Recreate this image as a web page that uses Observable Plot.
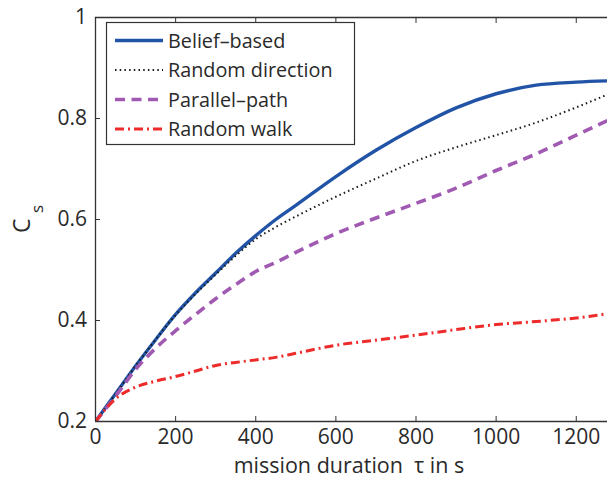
<!DOCTYPE html>
<html><head><meta charset="utf-8">
<script src="https://cdn.jsdelivr.net/npm/d3@7"></script>
<script src="https://cdn.jsdelivr.net/npm/@observablehq/plot@0.6"></script>
<style>
html,body{margin:0;padding:0;background:#fff;}
#chart svg{display:block;}
</style>
</head><body><div id="chart"></div>
<script>
// ---- data ----
const tau             = [0,    50,    100,   150,   200,   250,   300,   350,   400,   450,   500,   600,   700,   800,   900,   1000,  1100,  1200,  1300];
const beliefBased     = [0.20, 0.255, 0.310, 0.362, 0.412, 0.455, 0.494, 0.533, 0.568, 0.600, 0.628, 0.685, 0.737, 0.782, 0.821, 0.849, 0.866, 0.872, 0.875];
const randomDirection = [0.20, 0.255, 0.310, 0.362, 0.411, 0.453, 0.491, 0.528, 0.561, 0.585, 0.606, 0.645, 0.681, 0.716, 0.743, 0.767, 0.792, 0.822, 0.855];
const parallelPath    = [0.20, 0.250, 0.303, 0.345, 0.380, 0.412, 0.443, 0.471, 0.497, 0.515, 0.535, 0.572, 0.603, 0.632, 0.662, 0.697, 0.730, 0.767, 0.804];
const randomWalk      = [0.20, 0.245, 0.268, 0.280, 0.289, 0.300, 0.311, 0.317, 0.322, 0.327, 0.335, 0.351, 0.361, 0.371, 0.382, 0.392, 0.398, 0.405, 0.416];
const seriesNames = ["Belief–based", "Random direction", "Parallel–path", "Random walk"];
const seriesValues = [beliefBased, randomDirection, parallelPath, randomWalk];
const xTicks = [0, 200, 400, 600, 800, 1000, 1200];
const yTicks = [0.2, 0.4, 0.6, 0.8, 1];
const xDomain = [0, 1278];
const yDomain = [0.2, 1];
const xLabel = "mission duration  τ in s";

// ---- styles ----
const styles = [
  {stroke: "#2154a6", strokeWidth: 3.4, strokeDasharray: null, strokeLinecap: "round"},
  {stroke: "#1a1a1a", strokeWidth: 2.0, strokeDasharray: "1.5,3.2", strokeLinecap: "butt"},
  {stroke: "#a05ab2", strokeWidth: 3.6, strokeDasharray: "10,6.5", strokeLinecap: "butt"},
  {stroke: "#ee2b2b", strokeWidth: 3.0, strokeDasharray: "9,4,2,4", strokeLinecap: "butt"}
];

const table = seriesNames.map((name, s) => tau.map((t, i) => ({tau: t, value: seriesValues[s][i], series: name})));

const font = "'Open Sans', 'DejaVu Sans', sans-serif";

const chart = Plot.plot({
  width: 607, height: 477,
  marginLeft: 95, marginRight: 0, marginTop: 17, marginBottom: 56,
  style: {fontFamily: font, fontSize: "21px", color: "#2a2a2a", background: "#fff"},
  x: {domain: xDomain},
  y: {domain: yDomain},
  marks: [
    ...table.map((rows, s) => Plot.line(rows, {x: "tau", y: "value", clip: true, curve: "monotone-x", strokeLinejoin: "round", ...styles[s]})),
    Plot.ruleX([xDomain[0]], {stroke: "#333", strokeWidth: 1.3}),
    Plot.ruleY(yDomain, {stroke: "#333", strokeWidth: 1.3}),
    Plot.axisX({ticks: xTicks, tickSize: -5, tickPadding: 13, tickFormat: d => String(d), label: null, stroke: "#333"}),
    Plot.axisX({anchor: "top", ticks: xTicks, tickSize: -5, tickPadding: 0, tickFormat: () => "", label: null, stroke: "#333"}),
    Plot.axisY({ticks: yTicks, tickSize: -5, tickPadding: 13.5, tickFormat: d => String(d), label: null, stroke: "#333"})
  ]
});
document.getElementById("chart").appendChild(chart);

// ---- legend, axis labels (added to the same SVG) ----
const svg = d3.select(chart);
const lg = svg.append("g").attr("font-family", font).attr("text-anchor", "start");
lg.append("rect").attr("x", 106.5).attr("y", 22.5).attr("width", 248).attr("height", 122)
  .attr("fill", "#fff").attr("stroke", "#333").attr("stroke-width", 1.2);
const rowY = [40.5, 70, 99.5, 129];
seriesNames.forEach((name, s) => {
  lg.append("line").attr("x1", 115).attr("x2", 163).attr("y1", rowY[s]).attr("y2", rowY[s])
    .attr("stroke", styles[s].stroke).attr("stroke-width", styles[s].strokeWidth)
    .attr("stroke-dasharray", styles[s].strokeDasharray).attr("stroke-linecap", "butt");
  lg.append("text").attr("x", 168).attr("y", rowY[s]).attr("dy", "0.36em")
    .attr("text-anchor", "start")
    .attr("font-size", 19.8).attr("fill", "#2a2a2a").text(name);
});

svg.append("text").attr("x", 349).attr("y", 472.5).attr("text-anchor", "middle")
  .attr("font-family", font).attr("font-size", 21.5).attr("fill", "#2a2a2a")
  .style("white-space", "pre").text(xLabel);

svg.append("text").attr("transform", "translate(30,233) rotate(-90)").attr("text-anchor", "start")
  .attr("font-family", font).attr("font-size", 23).attr("fill", "#2a2a2a").text("C");
svg.append("text").attr("transform", "translate(43,213) rotate(-90)").attr("text-anchor", "start")
  .attr("font-family", font).attr("font-size", 17).attr("fill", "#2a2a2a").text("s");
</script>
</body></html>
